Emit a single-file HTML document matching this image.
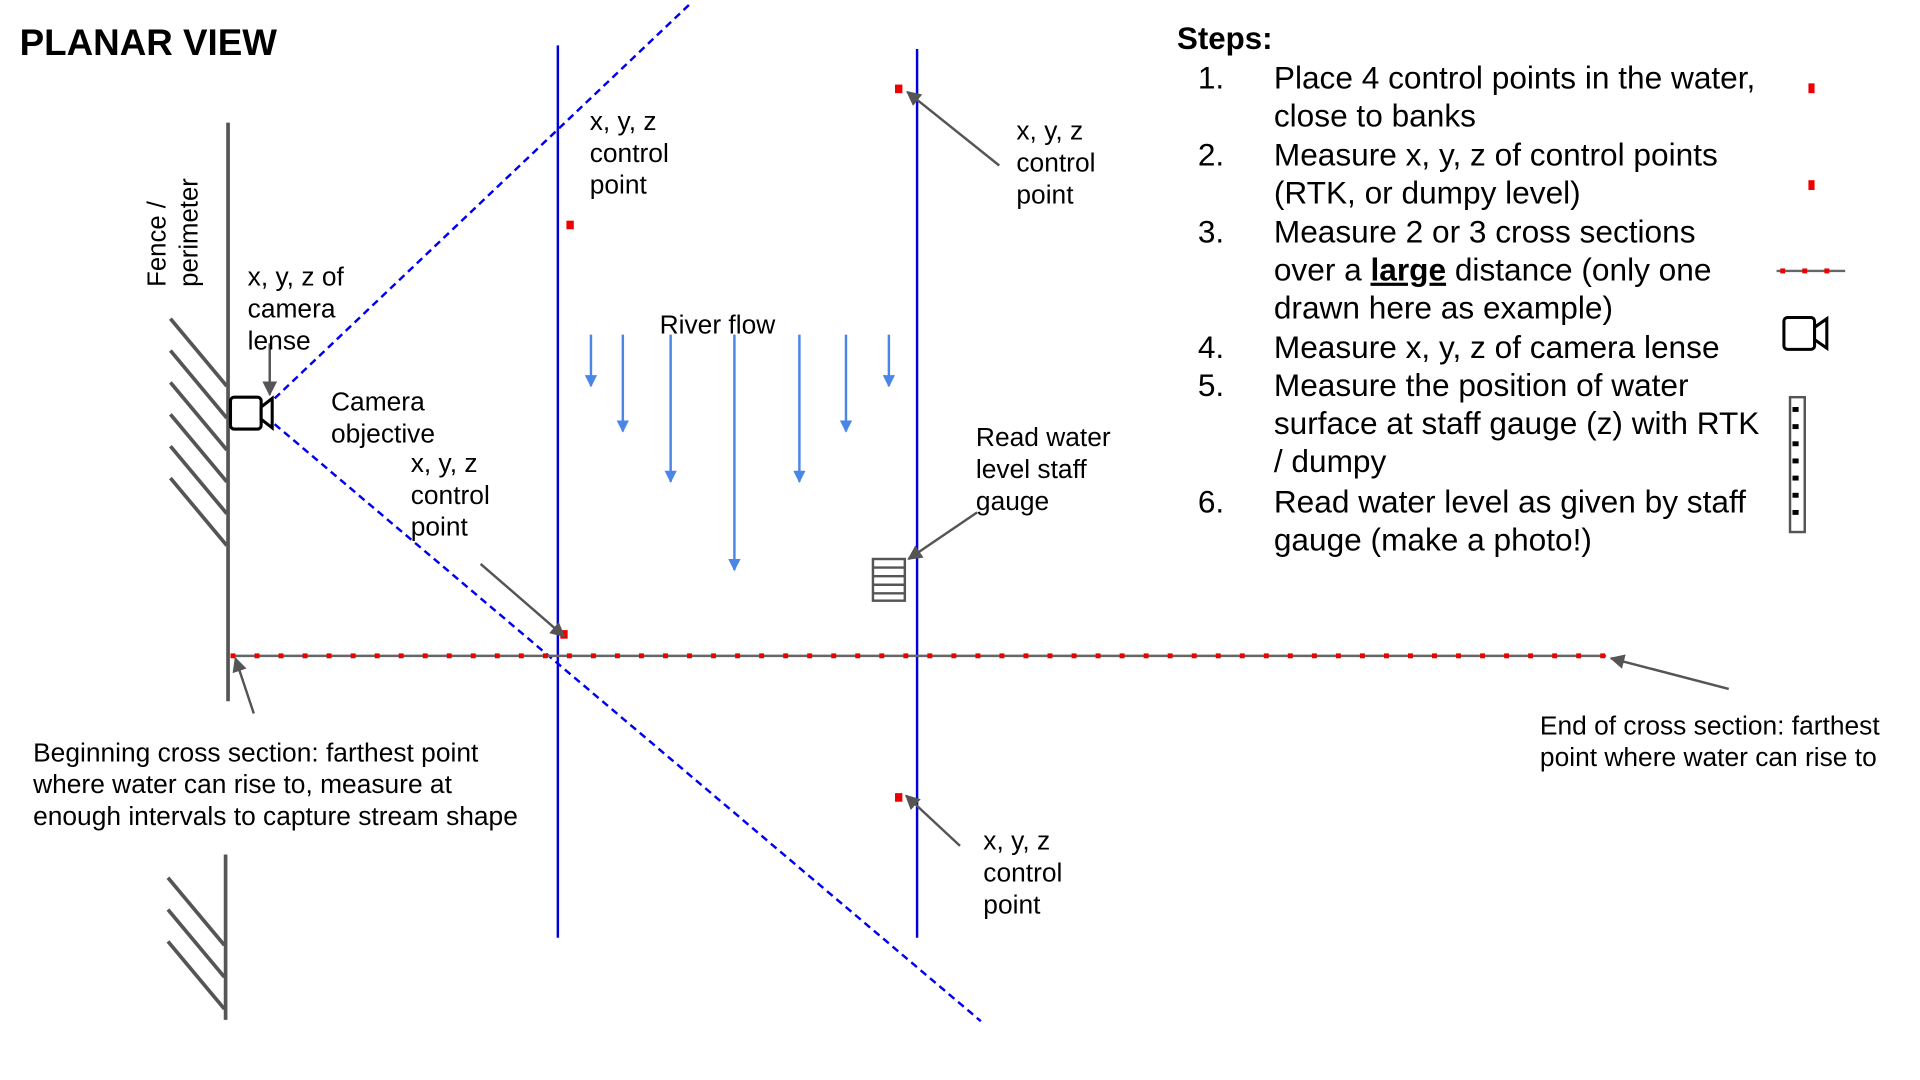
<!DOCTYPE html>
<html><head><meta charset="utf-8"><style>
html,body{margin:0;padding:0;background:#fff;}
svg{display:block;}
text{font-family:"Liberation Sans",Arial,sans-serif;fill:#000;}
</style></head><body>
<svg width="1920" height="1080" viewBox="0 0 1566 881" preserveAspectRatio="none" xmlns="http://www.w3.org/2000/svg">
<defs>
<marker id="ag" viewBox="0 0 10 10" refX="9" refY="5" markerWidth="6" markerHeight="6" orient="auto"><path d="M0,0 L10,5 L0,10 z" fill="#555"/></marker>
<marker id="ab" viewBox="0 0 10 10" refX="9" refY="5" markerWidth="5" markerHeight="5" orient="auto"><path d="M0,0 L10,5 L0,10 z" fill="#4a86e8"/></marker>
</defs>
<text x="16" y="45" font-size="30" font-weight="bold">PLANAR VIEW</text>
<g stroke="#555" stroke-width="3">
<line x1="186" y1="100" x2="186" y2="572"/>
<line x1="139" y1="260" x2="185" y2="315"/>
<line x1="139" y1="286" x2="185" y2="341"/>
<line x1="139" y1="312" x2="185" y2="367"/>
<line x1="139" y1="338" x2="185" y2="393"/>
<line x1="139" y1="364" x2="185" y2="419"/>
<line x1="139" y1="390" x2="185" y2="445"/>
<line x1="184" y1="697" x2="184" y2="832"/>
<line x1="137" y1="716" x2="183" y2="771"/>
<line x1="137" y1="742" x2="183" y2="797"/>
<line x1="137" y1="768" x2="183" y2="823"/>
</g>
<text transform="translate(135,234) rotate(-90)" font-size="21">Fence /</text>
<text transform="translate(161,234) rotate(-90)" font-size="21">perimeter</text>
<line x1="455" y1="37" x2="455" y2="765" stroke="#0000dd" stroke-width="2"/>
<line x1="748" y1="40" x2="748" y2="765" stroke="#0000dd" stroke-width="2"/>
<line x1="224" y1="325" x2="563" y2="3" stroke="#0000ee" stroke-width="2" stroke-dasharray="6,4"/>
<line x1="224" y1="346" x2="800" y2="833" stroke="#0000ee" stroke-width="2" stroke-dasharray="6,4"/>
<line x1="188" y1="535" x2="1310" y2="535" stroke="#666" stroke-width="2"/>
<line x1="188" y1="535" x2="1310" y2="535" stroke="#e00" stroke-width="4" stroke-dasharray="4,15.6"/>
<rect x="188" y="324" width="25" height="26" rx="3" fill="#fff" stroke="#000" stroke-width="2.5"/>
<path d="M213,332 L222,325 L222,349 L213,342 z" fill="#fff" stroke="#000" stroke-width="2.5"/>
<g fill="#e00">
<rect x="462" y="180" width="6" height="7"/>
<rect x="730" y="69" width="6" height="7"/>
<rect x="457" y="514" width="6" height="7"/>
<rect x="730" y="647" width="6" height="7"/>
<rect x="1475" y="68" width="5" height="8"/>
<rect x="1475" y="147" width="5" height="8"/>
</g>
<g stroke="#555" stroke-width="2" marker-end="url(#ag)">
<line x1="815" y1="135" x2="740" y2="75"/>
<line x1="392" y1="460" x2="460" y2="519"/>
<line x1="783" y1="690" x2="739" y2="649"/>
<line x1="797" y1="418" x2="741" y2="456"/>
<line x1="1410" y1="562" x2="1314" y2="537"/>
<line x1="207" y1="582" x2="192" y2="537"/>
<line x1="220" y1="280" x2="220" y2="322"/>
</g>
<g stroke="#4a86e8" stroke-width="2" marker-end="url(#ab)">
<line x1="482" y1="273" x2="482" y2="315"/>
<line x1="508" y1="273" x2="508" y2="352"/>
<line x1="547" y1="273" x2="547" y2="393"/>
<line x1="599" y1="273" x2="599" y2="465"/>
<line x1="652" y1="273" x2="652" y2="393"/>
<line x1="690" y1="273" x2="690" y2="352"/>
<line x1="725" y1="273" x2="725" y2="315"/>
</g>
<g stroke="#555" stroke-width="2" fill="none">
<rect x="712" y="456" width="26" height="34"/>
<line x1="712" y1="463" x2="738" y2="463"/><line x1="712" y1="470" x2="738" y2="470"/>
<line x1="712" y1="477" x2="738" y2="477"/><line x1="712" y1="484" x2="738" y2="484"/>
</g>
<g font-size="21.5">
<text x="481" y="106">x, y, z</text><text x="481" y="132">control</text><text x="481" y="158">point</text>
<text x="829" y="114">x, y, z</text><text x="829" y="140">control</text><text x="829" y="166">point</text>
<text x="202" y="233">x, y, z of</text><text x="202" y="259">camera</text><text x="202" y="285">lense</text>
<text x="270" y="335">Camera</text><text x="270" y="361">objective</text>
<text x="335" y="385">x, y, z</text><text x="335" y="411">control</text><text x="335" y="437">point</text>
<text x="538" y="272">River flow</text>
<text x="796" y="364">Read water</text><text x="796" y="390">level staff</text><text x="796" y="416">gauge</text>
<text x="802" y="693">x, y, z</text><text x="802" y="719">control</text><text x="802" y="745">point</text>
<text x="27" y="621">Beginning cross section: farthest point</text>
<text x="27" y="647">where water can rise to, measure at</text>
<text x="27" y="673">enough intervals to capture stream shape</text>
<text x="1256" y="599">End of cross section: farthest</text>
<text x="1256" y="625">point where water can rise to</text>
</g>
<text x="960" y="40" font-size="25.5" font-weight="bold">Steps:</text>
<g font-size="25.8">
<text x="977" y="72">1.</text><text x="1039" y="72">Place 4 control points in the water,</text>
<text x="1039" y="103">close to banks</text>
<text x="977" y="135">2.</text><text x="1039" y="135">Measure x, y, z of control points</text>
<text x="1039" y="166">(RTK, or dumpy level)</text>
<text x="977" y="198">3.</text><text x="1039" y="198">Measure 2 or 3 cross sections</text>
<text x="1039" y="229">over a <tspan font-weight="bold" text-decoration="underline">large</tspan> distance (only one</text>
<text x="1039" y="260">drawn here as example)</text>
<text x="977" y="292">4.</text><text x="1039" y="292">Measure x, y, z of camera lense</text>
<text x="977" y="323">5.</text><text x="1039" y="323">Measure the position of water</text>
<text x="1039" y="354">surface at staff gauge (z) with RTK</text>
<text x="1039" y="385">/ dumpy</text>
<text x="977" y="418">6.</text><text x="1039" y="418">Read water level as given by staff</text>
<text x="1039" y="449">gauge (make a photo!)</text>
</g>
<line x1="1449" y1="221" x2="1505" y2="221" stroke="#666" stroke-width="2"/>
<rect x="1452" y="219" width="4" height="4" fill="#e00"/><rect x="1470" y="219" width="4" height="4" fill="#e00"/><rect x="1488" y="219" width="4" height="4" fill="#e00"/>
<rect x="1455" y="259" width="25" height="26" rx="3" fill="#fff" stroke="#000" stroke-width="2.5"/>
<path d="M1480,267 L1490,260 L1490,284 L1480,277 z" fill="#fff" stroke="#000" stroke-width="2.5"/>
<rect x="1460" y="324" width="12" height="110" fill="#fff" stroke="#555" stroke-width="2"/>
<g fill="#000">
<rect x="1462" y="332" width="5" height="4"/><rect x="1462" y="346" width="5" height="4"/><rect x="1462" y="360" width="5" height="4"/><rect x="1462" y="374" width="5" height="4"/><rect x="1462" y="388" width="5" height="4"/><rect x="1462" y="402" width="5" height="4"/><rect x="1462" y="416" width="5" height="4"/>
</g>
</svg>
</body></html>
